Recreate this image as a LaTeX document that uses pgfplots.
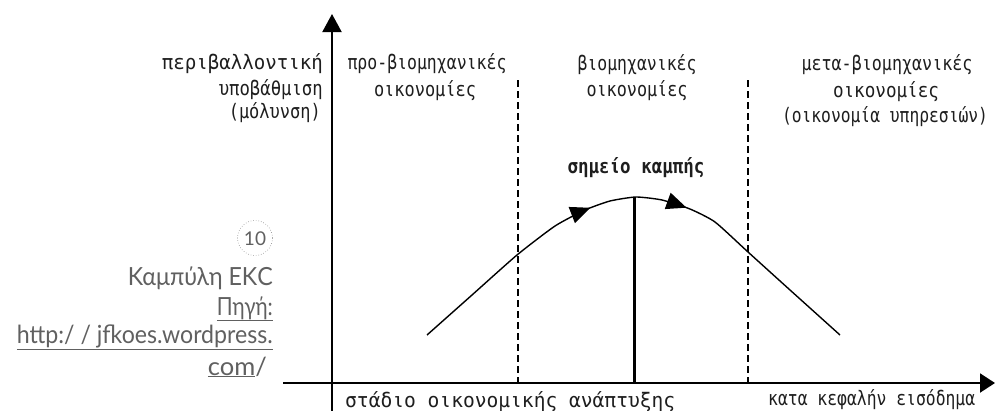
\documentclass[border=0pt]{standalone}
\usepackage{fontspec}
\usepackage{graphicx}
\usepackage{pgfplots}
\pgfplotsset{compat=1.18}
\usetikzlibrary{arrows.meta,decorations.markings}
\newfontfamily\gmono{DejaVu Sans Mono}
\newfontfamily\annot{Lato}
\newcommand\fw[2]{\resizebox{#1pt}{\height}{#2}}
\definecolor{anncol}{HTML}{606060}
\definecolor{txtcol}{HTML}{1E1E1E}
\begin{document}
\begin{tikzpicture}
\begin{axis}[width=995pt, height=410pt, scale only axis,
  xmin=0, xmax=995, ymin=0, ymax=410, y dir=reverse,
  hide axis, clip=false]
\coordinate (BL) at (axis cs:0,410);
\coordinate (TR) at (axis cs:995,0);
% axes
\draw[line width=2pt, -{Triangle[length=18pt,width=19pt]}] (axis cs:332,412) -- (axis cs:332,14);
\draw[line width=2pt, -{Triangle[length=15pt,width=19pt]}] (axis cs:283,383) -- (axis cs:995,383);
% dashed separators
\draw[line width=1.3pt, dash pattern=on 7pt off 4pt] (axis cs:518,80) -- (axis cs:518,383);
\draw[line width=1.3pt, dash pattern=on 7pt off 4pt] (axis cs:748,80) -- (axis cs:748,383);
% turning point
\draw[line width=3pt] (axis cs:634,197) -- (axis cs:634,383);
% EKC curve
\addplot[black, line width=1.4pt, smooth, tension=0.35,
  postaction={decorate},
  decoration={markings,
    mark=at position 0.41 with {\arrow{Triangle[length=20pt,width=17pt]}},
    mark=at position 0.605 with {\arrow{Triangle[length=20pt,width=17pt]}}}]
coordinates {(427,335) (472,295) (517,255) (555,226) (585,210) (610,201) (636,197) (662,200) (690,209) (715,222) (748,252) (790,290) (840,335)};
% labels
\begin{scope}[every node/.style={inner sep=0pt, text=txtcol, font=\gmono\fontsize{20}{22}\selectfont}]
\node[anchor=base east] at (axis cs:323,69) {\fw{161}{περιβαλλοντική}};
\node[anchor=base east] at (axis cs:323,95) {\fw{104}{υποβάθμιση}};
\node[anchor=base east] at (axis cs:321,118) {\fw{92}{(μόλυνση)}};
\node[anchor=base] at (axis cs:427,69) {\fw{159}{προ-βιομηχανικές}};
\node[anchor=base] at (axis cs:425,96) {\fw{102}{οικονομίες}};
\node[anchor=base] at (axis cs:637,70) {\fw{119}{βιομηχανικές}};
\node[anchor=base] at (axis cs:637,96) {\fw{101}{οικονομίες}};
\node[anchor=base] at (axis cs:887,70) {\fw{171}{μετα-βιομηχανικές}};
\node[anchor=base] at (axis cs:886,97) {\fw{106}{οικονομίες}};
\node[anchor=base] at (axis cs:885,122) {\fw{206}{(οικονομία υπηρεσιών)}};
\node[anchor=base] at (axis cs:636,173) {\fw{137}{\bfseries σημείο καμπής}};
\node[anchor=base west] at (axis cs:345,407) {\fw{330}{στάδιο οικονομικής ανάπτυξης}};
\node[anchor=base west] at (axis cs:768,405) {\fw{207}{κατα κεφαλήν εισόδημα}};
\end{scope}
% side annotation
\begin{scope}[every node/.style={inner sep=0pt, text=anncol, font=\annot\fontsize{25}{30}\selectfont}]
\draw[gray, line width=0.6pt, dotted] (axis cs:255,238) circle[radius=17.5pt];
\node[anchor=center, font=\annot\fontsize{19}{22}\selectfont] at (axis cs:255,239) {10};
\node[anchor=base east] at (axis cs:273,285) {\fw{145}{Καμπύλη ΕΚC}};
\node[anchor=base east] at (axis cs:273,315) {\fw{56}{\underline{Πηγή:}}};
\node[anchor=base east] at (axis cs:273,343) {\fw{256}{\underline{http:/ / jfkoes.wordpress.}}};
\node[anchor=base east] at (axis cs:267,375) {\fw{59}{\underline{com}/}};
\end{scope}
\end{axis}
\pgfresetboundingbox
\path (BL) rectangle (TR);
\end{tikzpicture}
\end{document}
